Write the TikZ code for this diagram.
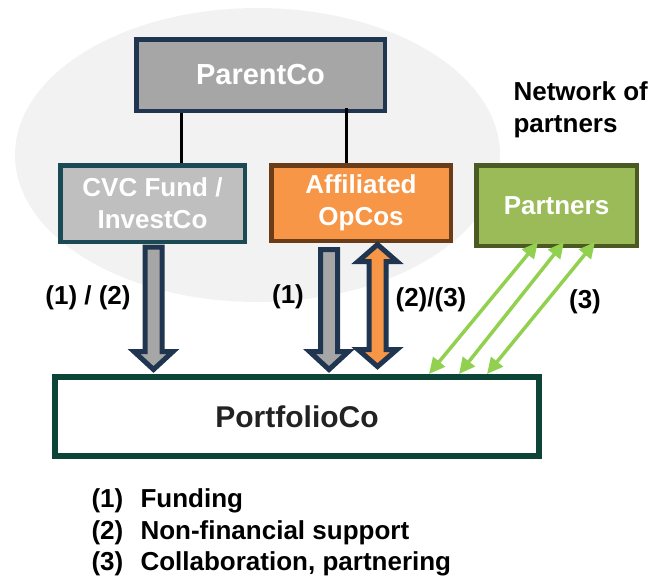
\documentclass[tikz,border=0pt]{standalone}
\usepackage{fontspec}
\setmainfont{Liberation Sans}
\usetikzlibrary{calc,arrows.meta}

\definecolor{navy}{HTML}{1F3550}
\definecolor{tealline}{HTML}{1C4A54}
\definecolor{brownline}{HTML}{6A3D18}
\definecolor{oliveline}{HTML}{4A5A22}
\definecolor{pfline}{HTML}{0C4437}
\definecolor{midgray}{HTML}{A6A6A6}
\definecolor{lightgray}{HTML}{BFBFBF}
\definecolor{orangefill}{HTML}{F79646}
\definecolor{greenfill}{HTML}{9BBB59}
\definecolor{linkgreen}{HTML}{92D050}
\definecolor{haze}{HTML}{F2F2F2}
\definecolor{darktext}{HTML}{222222}

% down-pointing block arrow: #1 top centre of the shaft, #2 tip, #3 fill
\newcommand\BlockDown[3]{%
  \draw[blockarr, fill=#3]
    ($(#1)+(-8.5,0)$) -- ($(#1)+(8.5,0)$) -- ($(#2)+(8.5,-18)$) --
    ($(#2)+(19.5,-18)$) -- (#2) -- ($(#2)+(-19.5,-18)$) --
    ($(#2)+(-8.5,-18)$) -- cycle;}
% two-headed block arrow: #1 upper tip, #2 lower tip, #3 fill
\newcommand\BlockBoth[3]{%
  \draw[blockarr, fill=#3]
    (#1) -- ($(#1)+(19.5,17)$) -- ($(#1)+(8.5,17)$) -- ($(#2)+(8.5,-17)$) --
    ($(#2)+(19.5,-17)$) -- (#2) -- ($(#2)+(-19.5,-17)$) -- ($(#2)+(-8.5,-17)$) --
    ($(#1)+(-8.5,17)$) -- ($(#1)+(-19.5,17)$) -- cycle;}

\begin{document}
\begin{tikzpicture}[x=1pt,y=-1pt,
  txt/.style={font=\bfseries\fontsize{26}{32}\selectfont, align=center},
  box/.style={txt, draw, line width=4.5pt, inner sep=0pt, text=white},
  blockarr/.style={draw=navy, line width=5pt, line join=miter},
  link/.style={draw=linkgreen, line width=3.5pt,
    {Triangle[length=16pt,width=15pt]}-{Triangle[length=16pt,width=15pt]}},
  tie/.style={draw=black, line width=3pt}]
\useasboundingbox (0,0) rectangle (650,576);

% corporate group backdrop
\fill[haze] (257.5,155) ellipse [x radius=242.5, y radius=147];

% entities
\node[box, fill=midgray, draw=navy, minimum width=248.5pt, minimum height=71.5pt,
  font=\bfseries\fontsize{29}{32}\selectfont] (parent) at (260.5,75) {ParentCo};
\node[box, fill=lightgray, draw=tealline, minimum width=184.5pt, minimum height=76.5pt]
  (cvc) at (152.5,203.5) {CVC Fund /\\InvestCo};
\node[box, fill=orangefill, draw=brownline, minimum width=179.5pt, minimum height=75.5pt]
  (aff) at (361,203) {Affiliated\\OpCos};
\node[box, fill=greenfill, draw=oliveline, minimum width=160.5pt, minimum height=80.5pt]
  (partners) at (556.5,205.5) {Partners};
\node[box, fill=white, draw=pfline, line width=6pt, text=darktext,
  minimum width=484pt, minimum height=79pt,
  font=\bfseries\fontsize{30}{32}\selectfont] (port) at (297,416.5) {PortfolioCo};

\node[txt, align=left, anchor=base west] (netw) at (510,100) {Network of};
\node[txt, align=left, anchor=base west] (netw2) at (510,132) {partners};

% ownership ties
\coordinate (t1) at ($(cvc.north)+(28.5,0)$);
\draw[tie] (t1) -- (t1 |- parent.south);
\coordinate (t2) at ($(aff.north)+(-15,0)$);
\draw[tie] (t2) -- ($(t2 |- parent.south)+(0,-5)$);

% support flows
\coordinate (a1t) at ($(cvc.south)+(1,3)$);
\coordinate (a1b) at ($(a1t |- port.north)+(0,-4.5)$);
\BlockDown{a1t}{a1b}{midgray}
\coordinate (a2t) at ($(aff.south)+(-32,6.5)$);
\coordinate (a2b) at ($(a2t |- port.north)+(0,-4.5)$);
\BlockDown{a2t}{a2b}{midgray}
\coordinate (a3t) at ($(aff.south)+(16.5,1.5)$);
\coordinate (a3b) at ($(a3t |- port.north)+(0,-7.5)$);
\BlockBoth{a3t}{a3b}{orangefill}

% partner links
\draw[link] ($(port.north)+(132,0)$) -- ($(partners.south)+(-18.5,-6)$);
\draw[link] ($(port.north)+(162,0)$) -- ($(partners.south)+(7.5,-6)$);
\draw[link] ($(port.north)+(190,0)$) -- ($(partners.south)+(38.5,-6)$);

% flow labels
\node[txt] (l12) at (88,298) {(1) / (2)};
\node[txt] (l1) at (288,297) {(1)};
\node[txt] (l23) at (431,300) {(2)/(3)};
\node[txt] (l3) at (585,302) {(3)};

% key
\node[txt, anchor=base west] (k1) at (88,507) {\makebox[49pt][l]{(1)}Funding};
\node[txt, anchor=base west] (k2) at (88,539) {\makebox[49pt][l]{(2)}Non-financial support};
\node[txt, anchor=base west] (k3) at (88,570) {\makebox[49pt][l]{(3)}Collaboration, partnering};
\end{tikzpicture}
\end{document}
